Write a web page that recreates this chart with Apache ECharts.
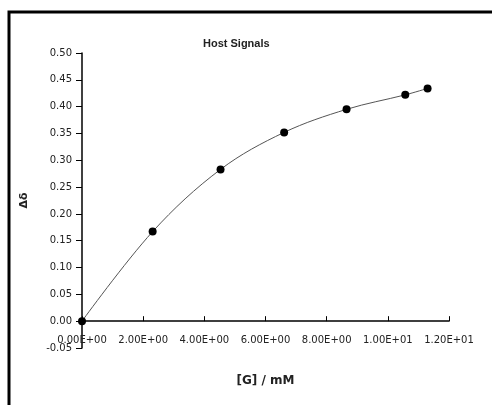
<!DOCTYPE html>
<html>
<head>
<meta charset="utf-8">
<script src="https://cdn.jsdelivr.net/npm/echarts@6/dist/echarts.min.js"></script>
<style>
  html, body { margin: 0; padding: 0; background: #fff; }
  #chart { width: 492px; height: 405px; }
</style>
</head>
<body>
<div id="chart"></div>
<script>
// Guest concentration [G] (mM) and host signal shift
var concentration = [0, 2.31, 4.53, 6.61, 8.65, 10.57, 11.30];
var signalShift = [0, 0.167, 0.283, 0.352, 0.395, 0.422, 0.434];

var chartTitle = 'Host Signals';
var xName = '[G] / mM';
var yName = 'Δδ';

var points = concentration.map(function (x, i) { return [x, signalShift[i]]; });

var chart = echarts.init(document.getElementById('chart'));
var labelFont = { fontFamily: 'DejaVu Sans', fontSize: 10, color: '#222' };

chart.setOption({
  animation: false,
  backgroundColor: '#fff',
  title: {
    text: chartTitle,
    left: 198, top: 33,
    textStyle: { fontFamily: 'Liberation Sans', fontWeight: 'bold', fontSize: 11, color: '#222' }
  },
  graphic: [{
    type: 'rect',
    shape: { x: 9, y: 12, width: 600, height: 600 },
    style: { fill: 'none', stroke: '#000', lineWidth: 3 },
    silent: true
  }],
  grid: { left: 82, right: 43, top: 53, bottom: 57, outerBoundsMode: 'none', containLabel: false },
  xAxis: {
    type: 'value',
    min: 0, max: 12, interval: 2,
    name: xName,
    nameLocation: 'middle',
    nameGap: 27,
    nameTextStyle: { fontFamily: 'DejaVu Sans', fontWeight: 'bold', fontSize: 12, color: '#222' },
    axisLine: { onZero: true, lineStyle: { color: '#000', width: 1.5 } },
    axisTick: { inside: true, length: 5, lineStyle: { color: '#000' } },
    axisLabel: Object.assign({
      margin: -13,
      formatter: function (v) {
        return v.toExponential(2).replace(/e([+-])(\d)$/, 'E$10$2').replace('e', 'E');
      }
    }, labelFont),
    splitLine: { show: false }
  },
  yAxis: {
    type: 'value',
    min: -0.05, max: 0.5, interval: 0.05,
    name: yName,
    nameLocation: 'middle',
    nameGap: 52,
    nameTextStyle: { fontFamily: 'DejaVu Sans', fontWeight: 'bold', fontSize: 11, color: '#222' },
    axisLine: { show: true, onZero: false, lineStyle: { color: '#000', width: 1.5 } },
    axisTick: { show: true, length: 6, lineStyle: { color: '#000' } },
    axisLabel: Object.assign({
      margin: 10,
      formatter: function (v) { return v.toFixed(2); }
    }, labelFont),
    splitLine: { show: false }
  },
  series: [{
    type: 'line',
    data: points,
    smooth: 0.35,
    symbol: 'circle',
    symbolSize: 8,
    itemStyle: { color: '#000' },
    lineStyle: { color: '#555', width: 1 }
  }]
});
</script>
</body>
</html>
